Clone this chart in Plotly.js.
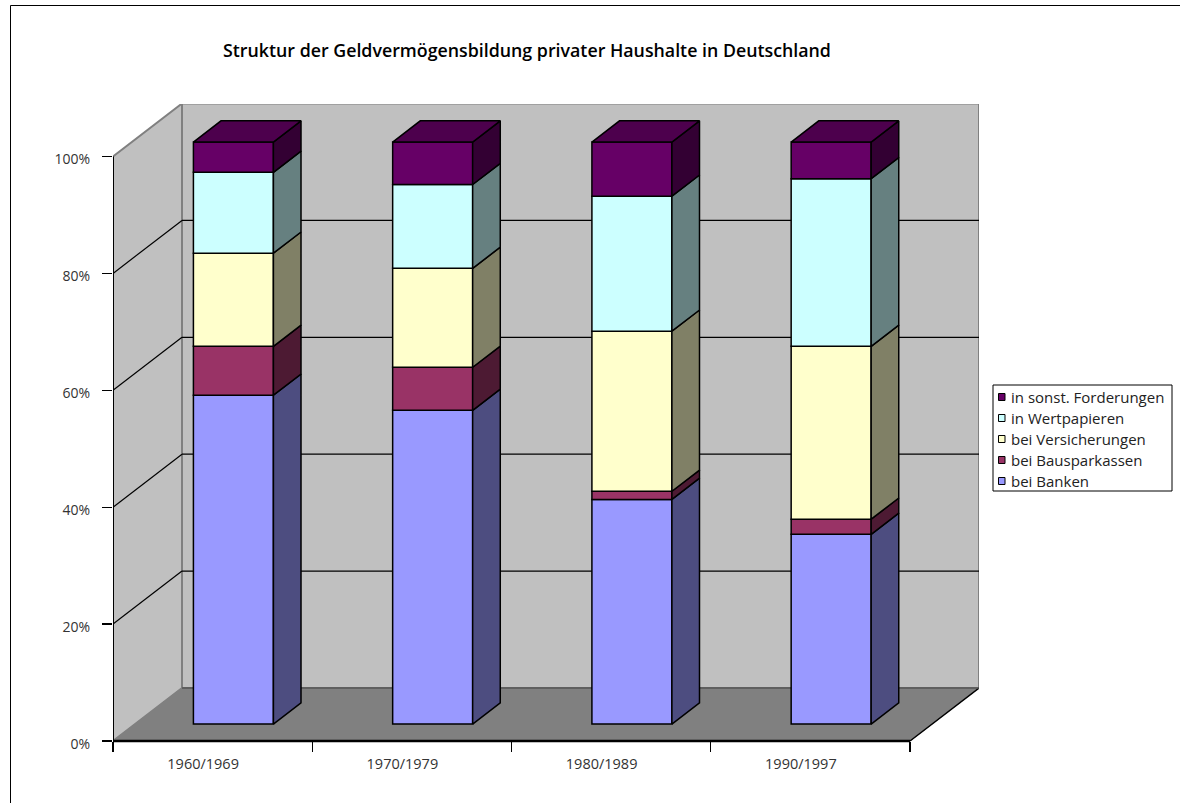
<!DOCTYPE html>
<html>
<head>
<meta charset="utf-8">
<script src="https://cdn.plot.ly/plotly-3.0.1.min.js"></script>
<style>html,body{margin:0;padding:0;background:#fff}</style>
</head>
<body>
<div id="chart" style="width:1180px;height:803px"></div>
<script>
// Struktur der Geldvermögensbildung: 100 % stacked columns in oblique projection
const categories = ['1960/1969', '1970/1979', '1980/1989', '1990/1997'];
const bankenValues = [56.5, 53.9, 38.6, 32.6];
const bausparValues = [8.4, 7.4, 1.4, 2.6];
const versicherungValues = [16.0, 17.0, 27.5, 29.7];
const wertpapierValues = [13.9, 14.4, 23.2, 28.8];
const sonstigeValues = [5.2, 7.3, 9.3, 6.3];

const seriesNames = ['bei Banken', 'bei Bausparkassen', 'bei Versicherungen', 'in Wertpapieren', 'in sonst. Forderungen'];
const seriesValues = [bankenValues, bausparValues, versicherungValues, wertpapierValues, sonstigeValues];
const frontColors = ['#9999FF', '#993366', '#FFFFCC', '#CCFFFF', '#660066'];
const sideColors = ['#4D4D80', '#4D1A33', '#808066', '#668080', '#330033'];
const topColor = '#4D004D';
const tickLabels = ['0%', '20%', '40%', '60%', '80%', '100%'];
const tickValues = [0, 20, 40, 60, 80, 100];

const labelFont = 'Open Sans';

// Pixel scale of the front plane
const pxPerCategory = 199.25;
const pxPerPercent = 5.845;
const plotLeft = 113, plotRight = 979, plotTop = 104, zeroLine = 741;
const plotBottom = zeroLine + 6;   // room under 0 % so its label can sit below the tick
const plotHeight = plotBottom - plotTop;
const depthX = (plotRight - 910) / pxPerCategory;
const depthY = 53 / pxPerPercent;

// Oblique projection of a point at a given depth (0 = front plane, 1 = back wall)
const px = (x, d) => x + d * depthX;
const py = (y, d) => y + d * depthY;

// Columns occupy this slice of the depth axis
const barFront = 0.32, barBack = 0.72;
const barWidth = 80 / pxPerCategory;
const barCentre = i => i + 0.5 - 1.3 / pxPerCategory;
const heightScale = 582 / 584.5;

const traces = [];
const cumulative = categories.map(() => 0);
seriesValues.forEach((vals, s) => {
  const bases = cumulative.map(c => py(c * heightScale, barFront));
  traces.push({
    type: 'bar', name: seriesNames[s], showlegend: false,
    x: categories.map((_, i) => px(barCentre(i), barFront)),
    y: vals.map(v => v * heightScale), base: bases, width: barWidth,
    marker: {color: frontColors[s], line: {color: '#000', width: 1.5}},
    hoverinfo: 'skip'
  });
  // Right-hand side face of each segment
  categories.forEach((_, i) => {
    const xr = barCentre(i) + barWidth / 2;
    const lo = cumulative[i] * heightScale, hi = (cumulative[i] + vals[i]) * heightScale;
    traces.push({
      type: 'scatter', mode: 'lines', showlegend: false, hoverinfo: 'skip',
      x: [px(xr, barFront), px(xr, barBack), px(xr, barBack), px(xr, barFront), px(xr, barFront)],
      y: [py(lo, barFront), py(lo, barBack), py(hi, barBack), py(hi, barFront), py(lo, barFront)],
      fill: 'toself', fillcolor: sideColors[s], line: {color: '#000', width: 1.5}
    });
  });
  vals.forEach((v, i) => { cumulative[i] += v; });
});
// Top face of each column
categories.forEach((_, i) => {
  const xl = barCentre(i) - barWidth / 2, xr = barCentre(i) + barWidth / 2, t = cumulative[i] * heightScale;
  traces.push({
    type: 'scatter', mode: 'lines', showlegend: false, hoverinfo: 'skip',
    x: [px(xl, barFront), px(xl, barBack), px(xr, barBack), px(xr, barFront), px(xl, barFront)],
    y: [py(t, barFront), py(t, barBack), py(t, barBack), py(t, barFront), py(t, barFront)],
    fill: 'toself', fillcolor: topColor, line: {color: '#000', width: 1.5}
  });
});

// Walls, floor and grid
const poly = (pts, fill, color, width) => ({
  type: 'path', layer: 'below', xref: 'x', yref: 'y',
  path: 'M' + pts.map(p => p[0] + ',' + p[1]).join('L') + 'Z',
  fillcolor: fill, line: {color: color, width: width}
});
const seg = (x0, y0, x1, y1, color, width) => ({
  type: 'line', layer: 'below', xref: 'x', yref: 'y',
  x0, y0, x1, y1, line: {color, width}
});
const n = categories.length;
const shapes = [
  poly([[px(0, 1), py(0, 1)], [px(n, 1), py(0, 1)], [px(n, 1), py(100, 1)], [px(0, 1), py(100, 1)]], '#C0C0C0', '#808080', 2),
  poly([[px(0, 0), py(0, 0)], [px(0, 1), py(0, 1)], [px(0, 1), py(100, 1)], [px(0, 0), py(100, 0)]], '#C0C0C0', '#808080', 2),
  poly([[px(0, 0), py(0, 0)], [px(n, 0), py(0, 0)], [px(n, 1), py(0, 1)], [px(0, 1), py(0, 1)]], '#808080', '#808080', 1),
  seg(px(n, 0), 0, px(n, 1), py(0, 1), '#000', 1.5),
  seg(px(0, 1), py(0, 1), px(n, 1), py(0, 1), '#555', 1.5)
];
tickValues.slice(1, -1).forEach(v => {
  shapes.push(seg(px(0, 0), py(v, 0), px(0, 1), py(v, 1), '#000', 1.2));
  shapes.push(seg(px(0, 1), py(v, 1), px(n, 1), py(v, 1), '#000', 1.2));
});
// Axis lines of the front plane
shapes.push(seg(0, 0, 0, 100, '#000', 2));
shapes.push(seg(0, 0, n, 0, '#000', 2.5));

// Outer frame of the chart
const paperX = p => (p - plotLeft) / (plotRight - plotLeft);
const paperY = p => (plotBottom - p) / plotHeight;
shapes.push({type: 'rect', xref: 'paper', yref: 'paper', layer: 'below',
  x0: paperX(10.5), x1: paperX(1300), y0: paperY(900), y1: paperY(5.5),
  line: {color: '#000', width: 1}, fillcolor: 'rgba(0,0,0,0)'});

// Legend box, last series on top
shapes.push({type: 'rect', xref: 'paper', yref: 'paper', layer: 'above',
  x0: paperX(993), x1: paperX(1172), y0: paperY(491), y1: paperY(385),
  line: {color: '#000', width: 1}, fillcolor: '#fff'});
const annotations = [];
seriesNames.slice().reverse().forEach((name, k) => {
  const cy = 397 + k * 21;
  const color = frontColors[seriesNames.length - 1 - k];
  shapes.push({type: 'rect', xref: 'paper', yref: 'paper', layer: 'above',
    x0: paperX(998.5), x1: paperX(1005), y0: paperY(cy + 3.5), y1: paperY(cy - 3.5),
    line: {color: '#000', width: 1}, fillcolor: color});
  annotations.push({xref: 'paper', yref: 'paper', x: paperX(1009), y: paperY(cy),
    xanchor: 'left', yanchor: 'middle', showarrow: false, text: name,
    font: {family: labelFont, size: 15, color: '#222'}});
});

const tickStyle = {ticks: 'outside', ticklen: 10, tickwidth: 1.2, tickcolor: '#000', showgrid: false};

const layout = {
  width: 1180, height: 803, autosize: false,
  paper_bgcolor: '#fff', plot_bgcolor: 'rgba(0,0,0,0)',
  margin: {l: plotLeft, r: 1180 - plotRight, t: plotTop, b: 803 - plotBottom, pad: 0},
  barmode: 'overlay', showlegend: false, hovermode: false,
  font: {family: labelFont, size: 14, color: '#222'},
  title: {text: 'Struktur der Geldvermögensbildung privater Haushalte in Deutschland',
    font: {family: labelFont, size: 17.8, weight: 600, color: '#000'},
    x: 527 / 1180, xanchor: 'center', xref: 'container', y: 1 - 51 / 803, yanchor: 'middle', yref: 'container'},
  xaxis: {
    range: [0, (plotRight - plotLeft) / pxPerCategory], showgrid: false, zeroline: false, showline: false,
    anchor: 'free', position: (plotBottom - zeroLine) / plotHeight,
    // Labels sit a little left of the category centres; tick marks stay on the boundaries
    tickmode: 'array', tickvals: categories.map((_, i) => i + 0.5 - 9.5 / pxPerCategory), ticktext: categories, ticks: '',
    minor: Object.assign({tickmode: 'array', tickvals: [0, 1, 2, 3, 4]}, tickStyle),
    tickfont: {size: 14.5, color: '#333'}, ticklabelstandoff: 12, fixedrange: true
  },
  yaxis: {
    range: [-(plotBottom - zeroLine) / pxPerPercent, (zeroLine - plotTop) / pxPerPercent],
    showgrid: false, zeroline: false, showline: false,
    // Labels hang slightly below their tick marks
    tickmode: 'array', tickvals: tickValues.map(v => v - 3 / pxPerPercent), ticktext: tickLabels, ticks: '',
    minor: Object.assign({tickmode: 'array', tickvals: tickValues}, tickStyle),
    tickfont: {size: 14, color: '#333'}, ticklabelstandoff: 22, fixedrange: true
  },
  shapes, annotations
};

Plotly.newPlot('chart', traces, layout, {displayModeBar: false, staticPlot: true});
</script>
</body>
</html>
